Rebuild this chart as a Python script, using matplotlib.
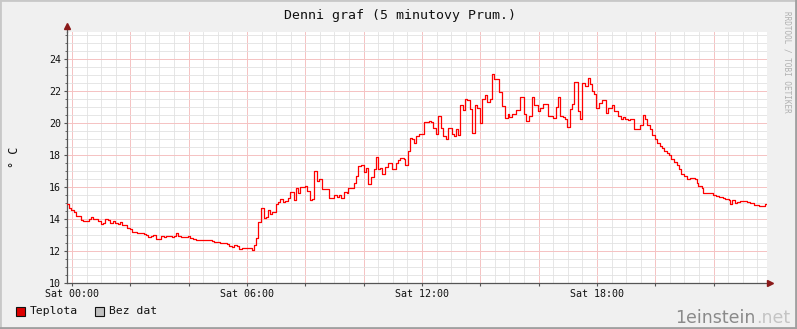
import numpy as np
import matplotlib
matplotlib.use('Agg')
from matplotlib import pyplot as plt
from matplotlib.patches import Rectangle
from matplotlib.ticker import MultipleLocator

# step change points: hour of the day, temperature from that time on
hours = [-0.16, -0.09, -0.02, 0.08, 0.15, 0.32, 0.39, 0.57, 0.66, 0.73, 0.89, 1.00, 1.07, 1.14, 1.23,
         1.30, 1.41, 1.49, 1.58, 1.65, 1.71, 1.90, 1.99, 2.06, 2.24, 2.47, 2.54, 2.61, 2.70, 2.77,
         2.88, 3.02, 3.06, 3.15, 3.22, 3.43, 3.50, 3.57, 3.63, 3.75,
         3.99, 4.06, 4.15, 4.24, 4.79, 4.86, 4.95, 5.06, 5.31, 5.38, 5.50, 5.56, 5.66, 5.73, 5.82,
         6.16, 6.25, 6.32, 6.39, 6.48, 6.57, 6.64, 6.71, 6.80, 6.87, 6.98, 7.05, 7.14, 7.23, 7.30,
         7.42, 7.48, 7.60, 7.67, 7.76, 7.83, 7.90,
         7.99, 8.06, 8.15, 8.22, 8.31, 8.40, 8.47, 8.58, 8.81, 8.99, 9.08, 9.15, 9.22, 9.34, 9.43,
         9.47, 9.66, 9.75, 9.82, 9.91, 10.00, 10.09, 10.16, 10.25, 10.34, 10.41, 10.48, 10.57, 10.64,
         10.73, 10.82, 10.91, 10.98, 11.10, 11.19, 11.25, 11.37, 11.42, 11.51, 11.58, 11.67, 11.74,
         11.80, 11.90, 12.06,
         12.24, 12.31, 12.38, 12.49, 12.56, 12.65, 12.72, 12.81, 12.90, 13.02, 13.09, 13.15, 13.24,
         13.31, 13.40, 13.47, 13.56, 13.63, 13.72, 13.82, 13.88, 14.00, 14.07, 14.16, 14.23, 14.32,
         14.41, 14.48, 14.64, 14.75, 14.84, 14.94, 15.00, 15.07, 15.16, 15.23, 15.35, 15.49, 15.57,
         15.67, 15.76, 15.83, 15.99, 16.05,
         16.15, 16.33, 16.49, 16.58, 16.65, 16.74, 16.83, 16.90, 16.97, 17.08, 17.15, 17.22, 17.34,
         17.41, 17.50, 17.59, 17.68, 17.75, 17.82, 17.91, 17.98, 18.07, 18.16, 18.27, 18.32, 18.39,
         18.50, 18.57, 18.73, 18.82, 18.89, 18.96, 19.07, 19.14, 19.26, 19.48, 19.58, 19.64, 19.71,
         19.83, 19.89, 19.99, 20.05, 20.15, 20.23, 20.30,
         20.39, 20.46, 20.55, 20.64, 20.73, 20.80, 20.89, 20.98, 21.07, 21.19, 21.35, 21.42, 21.48,
         21.60, 21.64, 21.92, 21.98, 22.08, 22.17, 22.33, 22.40, 22.51, 22.56, 22.63, 22.72, 22.81,
         22.90, 23.15, 23.24, 23.40, 23.56, 23.75, 23.80]
teplota = [14.92, 14.71, 14.58, 14.46, 14.19, 13.96, 13.87, 14.00, 14.10, 14.00, 13.90, 13.70, 13.75, 14.02, 13.95,
           13.75, 13.87, 13.72, 13.70, 13.80, 13.60, 13.44, 13.38, 13.17, 13.10, 13.06, 12.98, 12.90, 12.92, 12.98,
           12.77, 12.73, 12.92, 12.88, 12.92, 12.88, 12.94, 13.10, 12.92, 12.86,
           12.94, 12.81, 12.75, 12.69, 12.65, 12.54, 12.58, 12.48, 12.44, 12.31, 12.23, 12.35, 12.29, 12.12, 12.19,
           12.06, 12.35, 12.79, 13.79, 14.71, 14.04, 14.10, 14.58, 14.33, 14.44, 14.92, 15.08, 15.27, 15.08, 15.10,
           15.30, 15.71, 15.20, 15.96, 15.62, 16.02, 15.98,
           16.08, 15.75, 15.17, 15.25, 17.02, 16.40, 16.50, 15.88, 15.33, 15.48, 15.38, 15.50, 15.31, 15.71, 15.65,
           15.92, 16.27, 16.71, 17.29, 17.40, 16.96, 17.20, 16.19, 16.62, 17.12, 17.85, 17.10, 17.20, 16.79,
           17.25, 17.52, 17.48, 17.10, 17.50, 17.71, 17.80, 17.75, 17.38, 18.25, 19.08, 19.00, 18.75,
           19.17, 19.29, 20.04,
           20.10, 20.04, 19.71, 19.29, 20.42, 19.67, 19.17, 19.00, 19.69, 19.29, 19.21, 19.62, 19.25,
           21.10, 20.81, 21.52, 21.46, 20.90, 19.38, 21.10, 20.96, 19.98, 21.52, 21.77, 21.29, 21.50,
           23.06, 22.73, 21.96, 21.04, 20.31, 20.54, 20.38, 20.54, 20.58, 20.83, 21.60, 20.55, 20.10,
           20.44, 21.60, 21.10, 20.75, 20.94,
           21.17, 20.44, 20.29, 21.00, 21.60, 20.44, 20.35, 20.23, 19.75, 20.90, 21.17, 22.58, 20.73,
           20.23, 22.52, 22.33, 22.79, 22.46, 22.02, 21.81, 20.92, 21.23, 21.42, 21.44, 20.60, 20.94,
           21.10, 20.75, 20.44, 20.23, 20.35, 20.25, 20.19, 20.23, 19.60, 19.85, 20.48, 20.23, 19.85,
           19.60, 19.23, 19.00, 18.77, 18.56, 18.46, 18.27,
           18.10, 17.98, 17.77, 17.54, 17.35, 17.10, 16.81, 16.69, 16.48, 16.54, 16.50, 16.27, 16.04,
           15.96, 15.62, 15.60, 15.48, 15.44, 15.38, 15.33, 15.23, 15.21, 14.92, 15.19, 15.02, 15.08,
           15.12, 15.04, 15.00, 14.88, 14.81, 14.92, 14.92]

tick_hours = [0, 6, 12, 18]
tick_labels = ['Sat 00:00', 'Sat 06:00', 'Sat 12:00', 'Sat 18:00']
y_ticks = [10, 12, 14, 16, 18, 20, 22, 24]

mono = 'DejaVu Sans Mono'
bg = '#f0f0f0'

fig = plt.figure(figsize=(7.97, 3.29), dpi=100, facecolor=bg)
ax = fig.add_axes([67/797, 46/329, 700/797, 251/329])
ax.set_facecolor('white')

ax.set_xlim(-0.171, 23.83)
ax.set_ylim(10, 25.69)

# grid
ax.xaxis.set_minor_locator(MultipleLocator(0.5))
ax.yaxis.set_minor_locator(MultipleLocator(0.5))
ax.grid(which='minor', color='#e2e2e2', lw=0.6)
ax.grid(which='major', color='#f5c2c2', lw=0.7)
ax.set_axisbelow(True)

ax.step(hours, teplota, where='post', color='#ff0000', lw=0.9, zorder=3)

# axes look
for s in ['top', 'right']:
    ax.spines[s].set_visible(False)
for s in ['left', 'bottom']:
    ax.spines[s].set_color('#555555')
    ax.spines[s].set_linewidth(0.9)

ax.set_xticks(np.arange(0, 24, 2))
ax.set_xticklabels([tick_labels[tick_hours.index(h)] if h in tick_hours else '' for h in range(0, 24, 2)])
ax.set_yticks(y_ticks)
ax.set_yticklabels([str(v) for v in y_ticks])
ax.tick_params(which='major', length=2.5, width=0.8, color='#555555', pad=2,
               labelsize=7.2, labelcolor='#111111')
ax.tick_params(which='minor', length=1.2, width=0.6, color='#555555')
ax.tick_params(axis='x', which='minor', length=0)
for lab in ax.get_xticklabels() + ax.get_yticklabels():
    lab.set_family(mono)

# arrows at axis ends
ax.plot([0, 0], [1, 1.02], color='#555555', lw=0.9, transform=ax.transAxes, clip_on=False)
ax.plot(1.004, 0, marker='>', ms=4, color='#8b1a1a', transform=ax.transAxes, clip_on=False, zorder=5)
ax.plot(0, 1.022, marker='^', ms=4, color='#8b1a1a', transform=ax.transAxes, clip_on=False, zorder=5)

# texts
fig.text(400/797, 1 - 16/329, 'Denni graf (5 minutovy Prum.)', ha='center', va='center',
         family=mono, fontsize=9.5, color='#111111')
fig.text(14/797, 1 - 157/329, '° C', rotation=90, ha='center', va='center',
         family=mono, fontsize=8.5, color='#111111')
fig.text(787/797, 1 - 62/329, 'RRDTOOL / TOBI OETIKER', rotation=270, ha='center', va='center',
         family=mono, fontsize=5.5, color='#b0b0b0')

# legend
legend_items = [('Teplota', '#dd0000', 16), ('Bez dat', '#c0c0c0', 95)]
for name, col, px in legend_items:
    fig.patches.append(Rectangle((px/797, 1 - 316/329), 9/797, 9/329, transform=fig.transFigure,
                                 facecolor=col, edgecolor='#111111', lw=0.8))
    fig.text((px + 14)/797, 1 - 311.5/329, name, ha='left', va='center',
             family=mono, fontsize=8.2, color='#111111')

# watermark
wm = fig.text(790/797, 1 - 318/329, '.net', ha='right', va='center',
              family='DejaVu Sans', fontsize=12.5, color='#c4c4c4')
fig.canvas.draw()
bb = wm.get_window_extent()
fig.text(bb.x0/797, 1 - 318/329, '1einstein', ha='right', va='center',
         family='DejaVu Sans', fontsize=12.5, color='#8a8a8a')

# figure border
fig.patches.append(Rectangle((0, 0), 1, 1, transform=fig.transFigure, fill=False,
                             edgecolor='#c8c8c8', lw=2))
fig.add_artist(plt.Line2D([0, 1], [0.002, 0.002], transform=fig.transFigure, color='#a0a0a0', lw=2))
fig.add_artist(plt.Line2D([0.9985, 0.9985], [0, 1], transform=fig.transFigure, color='#a0a0a0', lw=2))

fig.savefig('out.png', dpi=100, facecolor=bg)
